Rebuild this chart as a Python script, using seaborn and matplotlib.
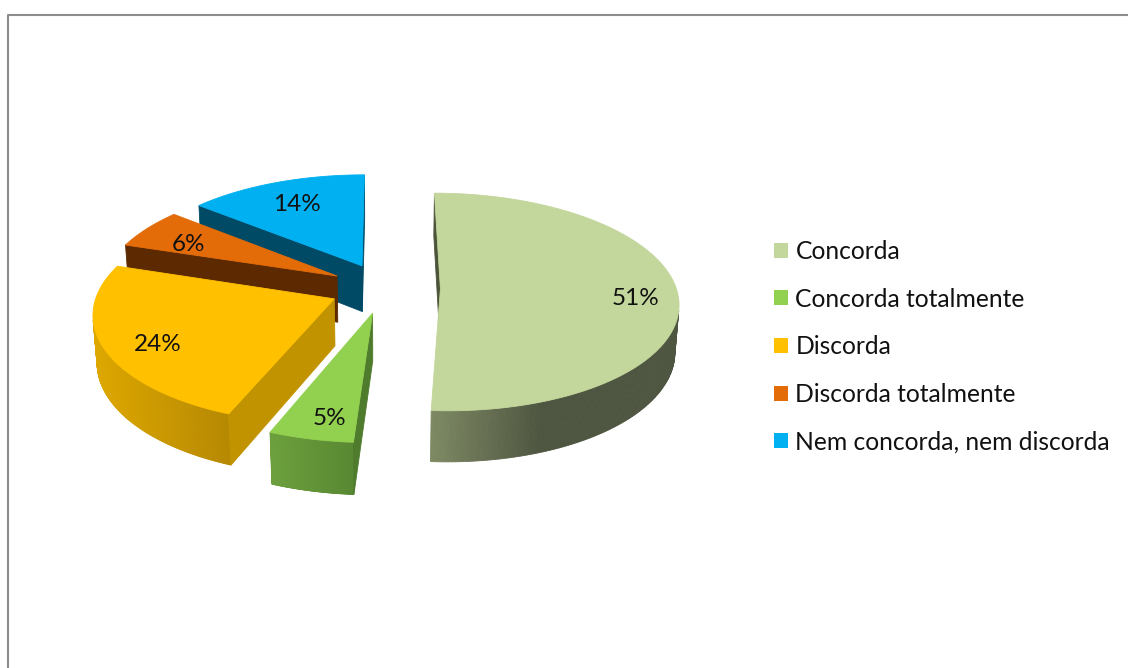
import numpy as np
import matplotlib
matplotlib.use("Agg")
import matplotlib.pyplot as plt
from matplotlib.patches import Polygon, Patch
from matplotlib.lines import Line2D
from matplotlib.colors import to_rgb
import seaborn as sns

# ---- data ----
categories = ["Concorda", "Concorda totalmente", "Discorda",
              "Discorda totalmente", "Nem concorda, nem discorda"]
shares = [51, 5, 24, 6, 14]
share_labels = ["51%", "5%", "24%", "6%", "14%"]

# ---- styling ----
top_colors = ["#C3D69B", "#92D050", "#FFC000", "#E36C09", "#00B0F0"]
wall_light = ["#7E8A64", "#6DA03D", "#DEA800", "#8A4000", "#00668C"]
wall_dark = ["#4E5540", "#588832", "#B68800", "#5C2900", "#004A66"]
wall_ramp = [0.45, 1.0, 1.0, 1.0, 1.0]
cut_colors = ["#4B5339", "#4F7B2C", "#C29300", "#5C2900", "#004A66"]

sns.set_theme(style="white")
plt.rcParams["font.family"] = ["Lato", "DejaVu Sans"]

W, H = 1128, 668
fig = plt.figure(figsize=(W / 100, H / 100), dpi=100)
ax = fig.add_axes([0, 0, 1, 1])
ax.set_xlim(0, W)
ax.set_ylim(H, 0)
ax.axis("off")

# ---- simple perspective camera for the 3-D pie ----
ELEV = np.radians(27)
DIST = 7.36
FOCAL = 1735
CX, CY = 385, 288
THICK = 0.225
EXPLODE = 0.235
LABEL_R = 0.8
cam = np.array([0.0, -DIST * np.cos(ELEV), DIST * np.sin(ELEV)])


def project(X, Y, Z):
    X, Y, Z = np.asarray(X, float), np.asarray(Y, float), np.asarray(Z, float)
    depth = DIST + Y * np.cos(ELEV) - Z * np.sin(ELEV)
    up = Y * np.sin(ELEV) + Z * np.cos(ELEV)
    return CX + FOCAL * X / depth, CY - FOCAL * up / depth


def mix(c1, c2, t):
    a, b = np.array(to_rgb(c1)), np.array(to_rgb(c2))
    return tuple(a + (b - a) * t)


# slice angles: start at 12 o'clock, clockwise
slices = []
cum = 0.0
for i, s in enumerate(shares):
    hi = 90 - 3.6 * cum
    lo = hi - 3.6 * s
    cum += s
    mid = np.radians((hi + lo) / 2)
    apex = EXPLODE * np.array([np.cos(mid), np.sin(mid)])
    slices.append(dict(i=i, lo=np.radians(lo), hi=np.radians(hi), mid=mid, apex=apex))

# draw from back to front
order = sorted(slices, key=lambda d: -d["apex"][1])

for sl in order:
    i = sl["i"]
    ax0, ay0 = sl["apex"]
    th = np.linspace(sl["lo"], sl["hi"], 240)
    rx, ry = ax0 + np.cos(th), ay0 + np.sin(th)

    # outer curved wall (only the part turned toward the camera)
    vis = (np.cos(th) * (cam[0] - rx) + np.sin(th) * (cam[1] - ry)) > 0
    tx, ty = project(rx, ry, 0 * rx)
    bx, by = project(rx, ry, 0 * rx - THICK)
    if vis.any():
        xs = tx[vis]
        xmin, xmax = xs.min(), xs.max()
        for k in range(len(th) - 1):
            if vis[k] and vis[k + 1]:
                t = ((tx[k] + tx[k + 1]) / 2 - xmin) / max(xmax - xmin, 1e-6)
                t = min(1.0, t / wall_ramp[i])
                c = mix(wall_light[i], wall_dark[i], t)
                quad = [(tx[k], ty[k]), (tx[k + 1], ty[k + 1]),
                        (bx[k + 1], by[k + 1]), (bx[k], by[k])]
                ax.add_patch(Polygon(quad, closed=True, facecolor=c,
                                     edgecolor=c, linewidth=0.6))

    # flat cut faces
    for ang, nrm in ((sl["hi"], sl["hi"] + np.pi / 2), (sl["lo"], sl["lo"] - np.pi / 2)):
        px, py = ax0 + 0.5 * np.cos(ang), ay0 + 0.5 * np.sin(ang)
        if np.cos(nrm) * (cam[0] - px) + np.sin(nrm) * (cam[1] - py) > 0:
            ex, ey = ax0 + np.cos(ang), ay0 + np.sin(ang)
            X = [ax0, ex, ex, ax0]
            Y = [ay0, ey, ey, ay0]
            Z = [0, 0, -THICK, -THICK]
            fx, fy = project(X, Y, Z)
            ax.add_patch(Polygon(np.column_stack([fx, fy]), closed=True,
                                 facecolor=cut_colors[i], edgecolor=cut_colors[i],
                                 linewidth=0.6))

    # top face
    px = np.concatenate([[ax0], rx])
    py = np.concatenate([[ay0], ry])
    sx, sy = project(px, py, 0 * px)
    ax.add_patch(Polygon(np.column_stack([sx, sy]), closed=True,
                         facecolor=top_colors[i], edgecolor=top_colors[i],
                         linewidth=0.6))

    # percentage label on the top face
    lx, ly = project(ax0 + LABEL_R * np.cos(sl["mid"]),
                     ay0 + LABEL_R * np.sin(sl["mid"]), 0)
    ax.annotate(share_labels[i], (float(lx), float(ly)), xytext=(4, -5),
                textcoords="offset points", ha="center", va="center",
                fontsize=17.5, color="#111111")

# legend
handles = [Patch(facecolor=c, edgecolor="none") for c in top_colors]
fig.legend(handles, categories, loc="upper left",
           bbox_to_anchor=(774 / W, 1 - 240 / H), frameon=False,
           fontsize=17.7, handlelength=0.57, handleheight=0.57,
           handletextpad=0.3, labelspacing=1.0, borderpad=0,
           borderaxespad=0, labelcolor="#111111")

# chart border (top and left edges visible)
fig.add_artist(Line2D([8 / W, 8 / W, 1.0], [0.0, 1 - 15 / H, 1 - 15 / H],
                      transform=fig.transFigure, color="#8C8C8C", linewidth=1.5))

fig.savefig("out.png", dpi=100)
